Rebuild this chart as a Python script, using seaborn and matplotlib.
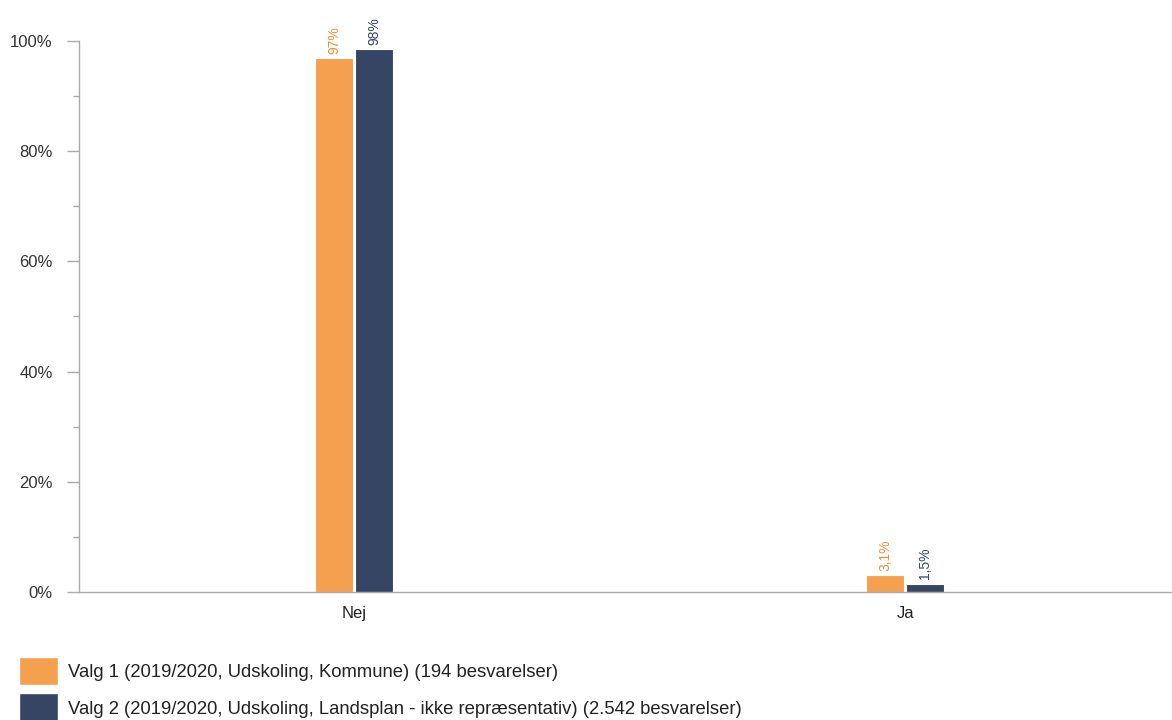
import matplotlib
matplotlib.use("Agg")
import matplotlib.pyplot as plt
import matplotlib.ticker as mticker
from matplotlib.patches import Patch
import seaborn as sns
import pandas as pd

categories = ["Nej", "Ja"]
series_names = [
    "Valg 1 (2019/2020, Udskoling, Kommune) (194 besvarelser)",
    "Valg 2 (2019/2020, Udskoling, Landsplan - ikke repræsentativ) (2.542 besvarelser)",
]
valg1_values = [96.9, 3.1]
valg2_values = [98.5, 1.5]
valg1_labels = ["97%", "3,1%"]
valg2_labels = ["98%", "1,5%"]
colors = ["#F4A04E", "#364563"]
label_colors = ["#E8913A", "#364563"]

sns.set_style("white")
plt.rcParams["font.family"] = ["Liberation Sans", "DejaVu Sans"]

df = pd.DataFrame({
    "kategori": categories * 2,
    "serie": [series_names[0]] * 2 + [series_names[1]] * 2,
    "værdi": valg1_values + valg2_values,
})

fig = plt.figure(figsize=(11.72, 7.2), dpi=100)
ax = fig.add_axes([0.0674, 0.178, 0.94, 0.765])

sns.barplot(data=df, x="kategori", y="værdi", hue="serie", order=categories,
            hue_order=series_names, palette=colors, saturation=1, width=0.145, gap=0.05,
            edgecolor="white", linewidth=0.8, ax=ax, legend=False)

ax.set_ylim(0, 100)
ax.set_xlim(-0.5, 1.5)
ax.set_xlabel("")
ax.set_ylabel("")
ax.yaxis.set_major_locator(mticker.MultipleLocator(20))
ax.yaxis.set_minor_locator(mticker.MultipleLocator(10))
ax.yaxis.set_major_formatter(mticker.FuncFormatter(lambda v, p: f"{int(v)}%"))
ax.tick_params(axis="y", which="major", length=9, width=1, color="#AAAAAA",
               labelsize=12, labelcolor="#333333", direction="out", left=True, pad=10)
ax.tick_params(axis="y", which="minor", length=4.5, width=1, color="#AAAAAA", left=True)
ax.tick_params(axis="x", length=0, labelsize=12, labelcolor="#222222", pad=10)
for s in ["top", "right"]:
    ax.spines[s].set_visible(False)
for s in ["left", "bottom"]:
    ax.spines[s].set_color("#AAAAAA")
    ax.spines[s].set_linewidth(1)

label_sets = [valg1_labels, valg2_labels]
for i, cont in enumerate(ax.containers):
    ax.bar_label(cont, labels=label_sets[i], rotation=90, padding=3,
                 color=label_colors[i], fontsize=10)

handles = [Patch(facecolor=c, edgecolor="white") for c in colors]
fig.legend(handles, series_names, loc="upper left", bbox_to_anchor=(0.016, 0.088),
           frameon=False, borderpad=0, borderaxespad=0,
           handlelength=2.1, handleheight=2.0, handletextpad=0.55,
           labelspacing=0.45, fontsize=13.3, labelcolor="#222222")

fig.savefig("out.png", dpi=100)
